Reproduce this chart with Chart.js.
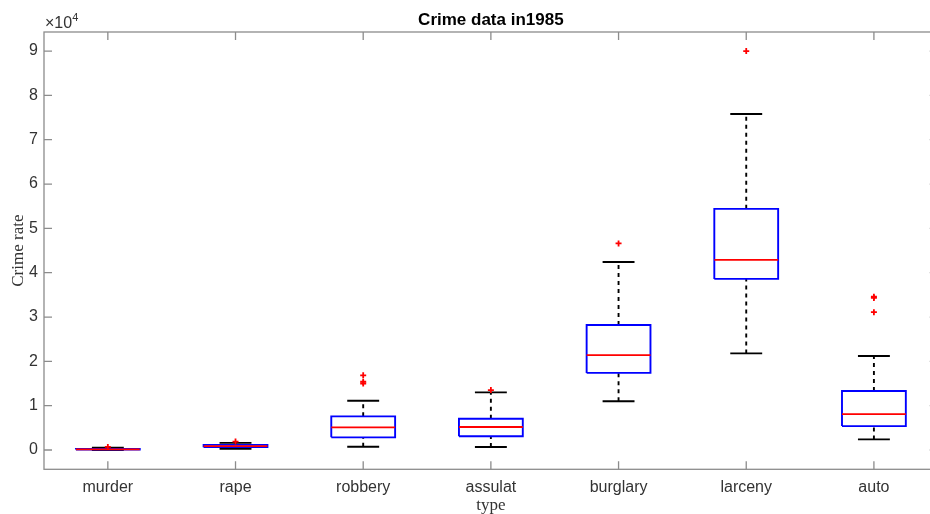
<!DOCTYPE html>
<html>
<head>
<meta charset="utf-8">
<script src="https://cdn.jsdelivr.net/npm/chart.js@4.4.1/dist/chart.umd.min.js"></script>
<style>
  html, body { margin: 0; padding: 0; background: #fff; overflow: hidden; }
  #wrap { width: 930px; height: 514px; overflow: hidden; }
</style>
</head>
<body>
<div id="wrap"><canvas id="crimeBox" width="945" height="514"></canvas></div>
<script>
const categories = ['murder', 'rape', 'robbery', 'assulat', 'burglary', 'larceny', 'auto'];
const lowerWhisker = [20, 250, 750, 680, 11000, 21800, 2400];
const q1Values = [100, 650, 2860, 3100, 17400, 38600, 5400];
const medianValues = [150, 880, 5100, 5200, 21400, 42900, 8100];
const q3Values = [220, 1150, 7600, 7060, 28200, 54400, 13300];
const upperWhisker = [500, 1600, 11100, 13000, 42400, 75800, 21200];
const outlierCats = [0, 1, 2, 2, 2, 3, 4, 5, 6, 6, 6];
const outlierValues = [700, 1900, 16850, 15400, 15000, 13530, 46600, 90000, 34600, 34300, 31100];
const yTickValues = [0, 10000, 20000, 30000, 40000, 50000, 60000, 70000, 80000, 90000];
const yTickLabels = ['0', '1', '2', '3', '4', '5', '6', '7', '8', '9'];

const boxHalf = 0.25;
const capHalf = 0.125;
const gap = {x: null, y: null};

// build line segments from the arrays
const whiskerPts = [];
const capPts = [];
const boxPts = [];
const medianPts = [];
categories.forEach((c, i) => {
  const x = i + 1;
  whiskerPts.push({x: x, y: q3Values[i]}, {x: x, y: upperWhisker[i]}, gap);
  whiskerPts.push({x: x, y: lowerWhisker[i]}, {x: x, y: q1Values[i]}, gap);
  capPts.push({x: x - capHalf, y: upperWhisker[i]}, {x: x + capHalf, y: upperWhisker[i]}, gap);
  capPts.push({x: x - capHalf, y: lowerWhisker[i]}, {x: x + capHalf, y: lowerWhisker[i]}, gap);
  boxPts.push(
    {x: x - boxHalf, y: q1Values[i]}, {x: x + boxHalf, y: q1Values[i]},
    {x: x + boxHalf, y: q3Values[i]}, {x: x - boxHalf, y: q3Values[i]},
    {x: x - boxHalf, y: q1Values[i]}, gap);
  medianPts.push({x: x - boxHalf, y: medianValues[i]}, {x: x + boxHalf, y: medianValues[i]}, gap);
});
const outlierPts = outlierValues.map((v, k) => ({x: outlierCats[k] + 1, y: v}));

const sans = '"Liberation Sans", Arial, Helvetica, sans-serif';
const serif = '"Liberation Serif", "Times New Roman", serif';

const matlabAxes = {
  id: 'matlabAxes',
  afterDraw(chart) {
    const {ctx, chartArea: a, scales: {x, y}} = chart;
    ctx.save();
    ctx.strokeStyle = '#8c8c8c';
    ctx.lineWidth = 1.3;
    ctx.strokeRect(a.left, a.top, a.right - a.left, a.bottom - a.top);
    ctx.beginPath();
    y.ticks.forEach(t => {
      const py = y.getPixelForValue(t.value);
      ctx.moveTo(a.left, py); ctx.lineTo(a.left + 8, py);
      ctx.moveTo(a.right, py); ctx.lineTo(a.right - 8, py);
    });
    x.ticks.forEach(t => {
      const px = x.getPixelForValue(t.value);
      ctx.moveTo(px, a.bottom); ctx.lineTo(px, a.bottom - 8);
      ctx.moveTo(px, a.top); ctx.lineTo(px, a.top + 8);
    });
    ctx.stroke();

    ctx.fillStyle = '#000';
    ctx.font = 'bold 17px ' + sans;
    ctx.textAlign = 'center';
    ctx.textBaseline = 'alphabetic';
    ctx.fillText('Crime data in1985', (a.left + a.right) / 2, 24.5);

    ctx.fillStyle = '#333';
    ctx.font = '16px ' + sans;
    ctx.textAlign = 'left';
    ctx.fillText('\u00d710', a.left + 1, 28);
    const w = ctx.measureText('\u00d710').width;
    ctx.font = '11px ' + sans;
    ctx.fillText('4', a.left + 1 + w, 21);
    ctx.restore();
  }
};

const lineSet = (label, data, color, order, dash) => ({
  label: label,
  data: data,
  showLine: true,
  spanGaps: false,
  borderColor: color,
  borderWidth: 1.9,
  borderDash: dash || [],
  pointRadius: 0,
  fill: false,
  order: order
});

new Chart(document.getElementById('crimeBox').getContext('2d'), {
  type: 'scatter',
  data: {
    datasets: [
      lineSet('whisker', whiskerPts, '#000', 4, [4, 4]),
      lineSet('cap', capPts, '#000', 3),
      lineSet('box', boxPts, '#0000ff', 2),
      lineSet('median', medianPts, '#ff0000', 1),
      {
        label: 'outliers',
        data: outlierPts,
        pointStyle: 'cross',
        pointRadius: 3,
        borderColor: '#ff0000',
        borderWidth: 1.8,
        order: 0
      }
    ]
  },
  plugins: [matlabAxes],
  options: {
    responsive: false,
    animation: false,
    layout: { padding: { top: 32, right: 7.25, left: 0, bottom: 0 } },
    plugins: {
      legend: { display: false },
      tooltip: { enabled: false },
      title: { display: false }
    },
    scales: {
      x: {
        type: 'linear',
        min: 0.5,
        max: 7.5,
        afterBuildTicks: s => { s.ticks = categories.map((c, i) => ({value: i + 1})); },
        afterFit: s => { s.height = 44.7; },
        grid: { display: false, drawTicks: false },
        border: { display: false },
        ticks: {
          autoSkip: false,
          maxRotation: 0,
          padding: 9,
          color: '#333',
          font: { family: sans, size: 16 },
          callback: v => categories[Math.round(v) - 1]
        },
        title: {
          display: true,
          text: 'type',
          color: '#333',
          font: { family: serif, size: 17, lineHeight: 1 },
          padding: { top: 0, bottom: 0 }
        }
      },
      y: {
        min: -4350,
        max: 94300,
        afterBuildTicks: s => { s.ticks = yTickValues.map(v => ({value: v})); },
        afterFit: s => { s.width = 44; },
        grid: { display: false, drawTicks: false },
        border: { display: false },
        ticks: {
          padding: 6,
          color: '#333',
          font: { family: sans, size: 16 },
          callback: v => yTickLabels[yTickValues.indexOf(v)]
        },
        title: {
          display: true,
          text: 'Crime rate',
          color: '#333',
          font: { family: serif, size: 17 },
          padding: { top: 8, bottom: 0 }
        }
      }
    }
  }
});
</script>
</body>
</html>
